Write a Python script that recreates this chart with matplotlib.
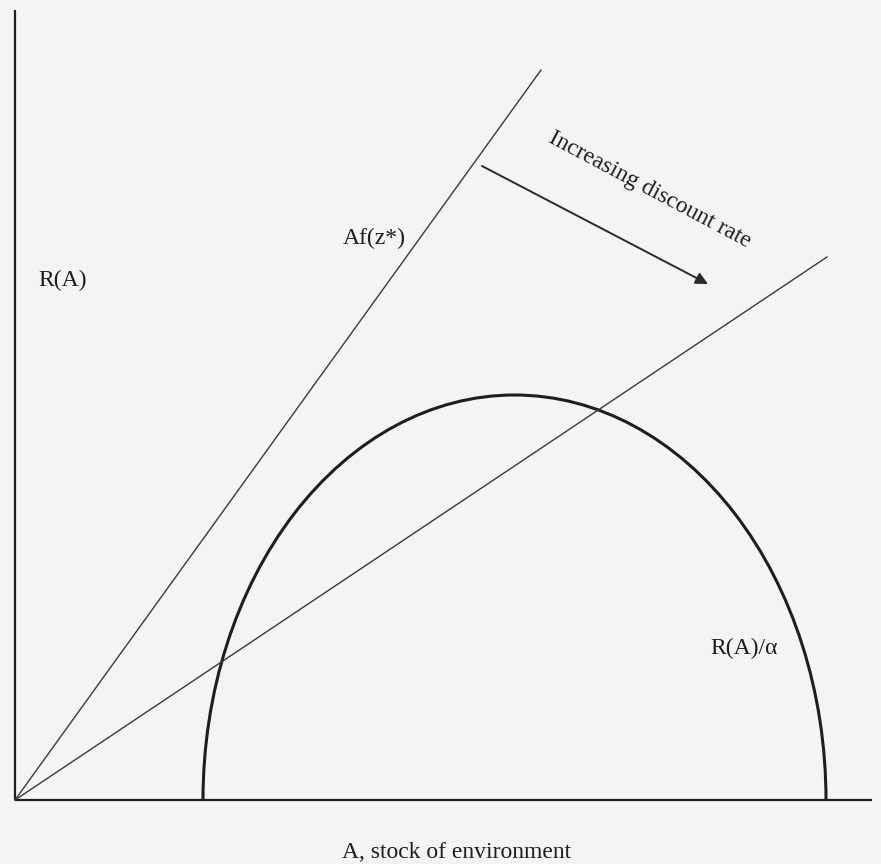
import matplotlib
matplotlib.use("Agg")
import matplotlib.pyplot as plt
from matplotlib.patches import Arc

# chart coordinates: origin where the two axes meet, units roughly pixels
y_axis_top = 790
x_axis_end = 857

# R(A)/alpha curve, read as a half ellipse
arc_center = (499.5, 0)
arc_width = 623
arc_height = 810

# rays from the origin (end points)
ray_steep = [(0, 0), (526, 730)]   # Af(z*)
ray_flat = [(0, 0), (812, 543)]

arrow_start = (467, 634)
arrow_end = (693, 516)

labels = ["R(A)", "Af(z*)", "R(A)/\u03b1"]
label_pos = [(23, 520), (328, 562), (695, 152)]

bg = "#f4f4f2"
ink = "#1e1e1e"
serif = ["Liberation Serif", "DejaVu Serif"]

fig = plt.figure(figsize=(8.81, 8.64), dpi=100, facecolor=bg)
ax = fig.add_axes([0, 0, 1, 1])
ax.set_facecolor(bg)
ax.set_xlim(-15, 866)
ax.set_ylim(-64, 800)
ax.axis("off")

ax.plot([0, 0], [0, y_axis_top], color=ink, lw=1.6, solid_capstyle="butt")
ax.plot([0, x_axis_end], [0, 0], color=ink, lw=1.6, solid_capstyle="butt")

ax.add_patch(Arc(arc_center, arc_width, arc_height, theta1=0, theta2=180,
                 color=ink, lw=2.2))

for ray in (ray_steep, ray_flat):
    xs, ys = zip(*ray)
    ax.plot(xs, ys, color="#3a3a3a", lw=1.0)

ax.annotate("", xy=arrow_end, xytext=arrow_start,
            arrowprops=dict(arrowstyle="-|>", color="#2a2a2a", lw=1.4,
                            mutation_scale=18, shrinkA=0, shrinkB=0))

ax.text(635, 610, "Increasing discount rate", rotation=-28, rotation_mode="anchor",
        ha="center", va="center", fontsize=17, family=serif, color=ink)

for txt, (x, y) in zip(labels, label_pos):
    ax.text(x, y, txt, ha="left", va="center", fontsize=17, family=serif, color=ink)

ax.text(442, -52, "A, stock of environment", ha="center", va="center",
        fontsize=17, family=serif, color=ink)

fig.savefig("out.png", dpi=100, facecolor=bg)
